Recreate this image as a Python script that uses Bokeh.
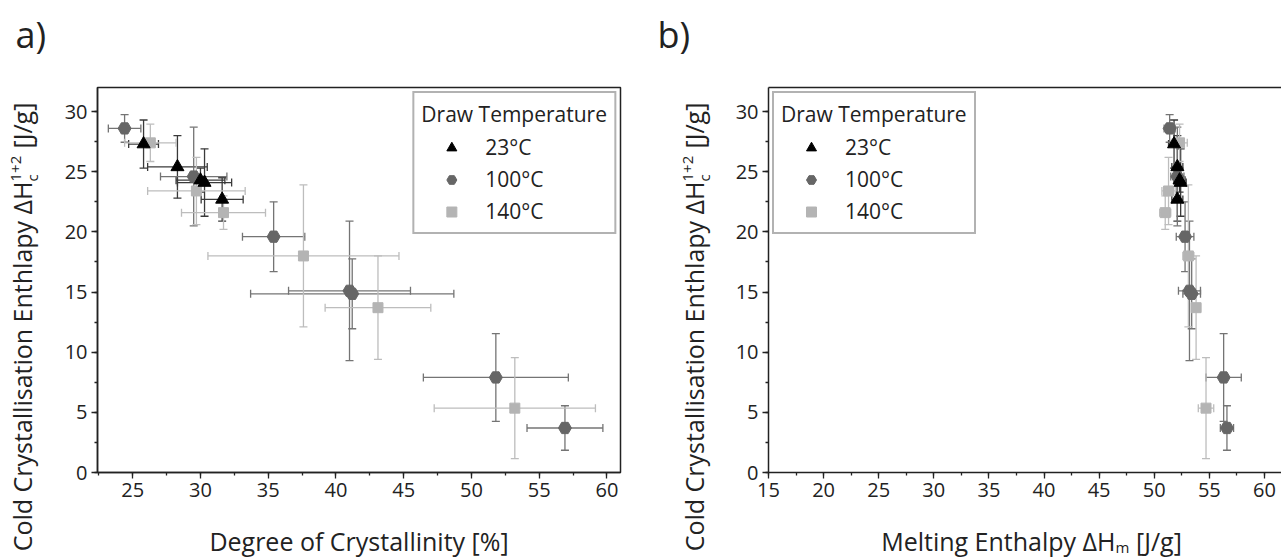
import math
from bokeh.plotting import figure
from bokeh.models import (ColumnDataSource, Whisker, TeeHead, Legend, LegendItem, Label,
                          SingleIntervalTicker, LinearAxis, Range1d)
from bokeh.layouts import row, column
from bokeh.embed import file_html
from bokeh.resources import INLINE

FONT = "Open Sans"

# ---------------- data ----------------
# 23 °C (triangles)
t_cryst = [25.8, 28.3, 30.0, 30.3, 31.6]
t_cryst_err = [1.1, 2.2, 1.8, 2.0, 1.55]
t_hm = [51.8, 52.1, 52.3, 52.4, 52.1]
t_hm_err = [0.5, 0.5, 0.5, 0.5, 0.5]
t_hc = [27.3, 25.4, 24.3, 24.1, 22.7]
t_hc_err = [2.0, 2.6, 1.0, 2.8, 1.8]

# 100 °C (hexagons)
c_cryst = [24.4, 29.5, 35.4, 41.0, 41.2, 51.8, 56.9]
c_cryst_err = [1.2, 2.45, 2.3, 4.5, 7.5, 5.35, 2.8]
c_hm = [51.4, 52.1, 52.8, 53.2, 53.4, 56.3, 56.6]
c_hm_err = [0.5, 0.6, 0.8, 1.0, 0.8, 1.6, 0.6]
c_hc = [28.6, 24.6, 19.6, 15.1, 14.85, 7.9, 3.7]
c_hc_err = [1.15, 4.1, 2.9, 5.8, 2.9, 3.65, 1.85]

# 140 °C (squares)
s_cryst = [26.3, 29.7, 31.7, 37.6, 43.1, 53.2]
s_cryst_err = [1.9, 3.6, 3.1, 7.05, 3.9, 5.95]
s_hm = [52.3, 51.3, 51.0, 53.1, 53.8, 54.7]
s_hm_err = [0.7, 0.6, 0.5, 0.5, 0.4, 0.7]
s_hc = [27.4, 23.4, 21.6, 18.0, 13.7, 5.35]
s_hc_err = [1.55, 2.8, 1.4, 5.9, 4.3, 4.2]

labels = ["23°C", "100°C", "140°C"]
legend_title = "Draw Temperature"

STYLES = [
    dict(marker="triangle", color="#000000", ecolor="#3a3a3a", size=13),
    dict(marker="hex", color="#666666", ecolor="#747474", size=13),
    dict(marker="square", color="#b4b4b4", ecolor="#bdbdbd", size=10),
]

H = 558
MAIN_H = 510


def add_series(p, x, xerr, y, yerr, st):
    src = ColumnDataSource(dict(
        x=x, y=y,
        xlo=[a - b for a, b in zip(x, xerr)], xhi=[a + b for a, b in zip(x, xerr)],
        ylo=[a - b for a, b in zip(y, yerr)], yhi=[a + b for a, b in zip(y, yerr)],
    ))
    for base, lo, hi, dim in [("y", "xlo", "xhi", "width"), ("x", "ylo", "yhi", "height")]:
        w = Whisker(source=src, base=base, lower=lo, upper=hi, dimension=dim,
                    line_color=st["ecolor"], line_width=1.3,
                    upper_head=TeeHead(size=8, line_color=st["ecolor"], line_width=1.3),
                    lower_head=TeeHead(size=8, line_color=st["ecolor"], line_width=1.3))
        p.add_layout(w)
    return src


def style_axis(ax):
    ax.ticker = SingleIntervalTicker(interval=5, num_minor_ticks=2)
    ax.major_tick_out = 6
    ax.major_tick_in = 0
    ax.minor_tick_out = 3
    ax.minor_tick_in = 0
    ax.axis_line_width = 1.5
    ax.axis_line_color = "#222222"
    ax.major_tick_line_color = "#222222"
    ax.minor_tick_line_color = "#222222"
    ax.major_tick_line_width = 1.3
    ax.minor_tick_line_width = 1.3
    ax.major_label_text_font = FONT
    ax.major_label_text_font_size = "20px"
    ax.major_label_text_color = "#222222"
    ax.major_label_standoff = 4


def blank_fig(width, height, left=0, right=0):
    f = figure(width=width, height=height, x_range=Range1d(0, 1), y_range=Range1d(0, 1),
               output_backend="svg", toolbar_location=None,
               x_axis_type=None, y_axis_type=None,
               min_border=0, min_border_left=left, min_border_right=right,
               min_border_top=0, min_border_bottom=0)
    f.outline_line_color = None
    f.grid.visible = False
    f.background_fill_color = "white"
    f.border_fill_color = "white"
    return f


def lab(p, text, x, y, size, align="left", angle=0.0):
    p.add_layout(Label(x=x, y=y, x_units="screen", y_units="screen", text=text,
                       text_font=FONT, text_font_size=size, text_color="#222222",
                       text_align=align, text_baseline="alphabetic", angle=angle))


def ylabel_fig(width, letter, letter_x, base_x):
    f = blank_fig(width, H)
    lab(f, letter, letter_x, H - 34, "36px")
    ang = math.pi / 2
    yP = H - 181
    lab(f, "Cold Crystallisation Enthlapy ΔH", base_x, yP, "25px", "right", ang)
    lab(f, "c", base_x + 10, yP, "15px", "left", ang)
    lab(f, "1+2", base_x - 6, yP, "15px", "left", ang)
    lab(f, "[J/g]", base_x, yP + 33, "25px", "left", ang)
    return f


def make_panel(width, min_left, min_right, xr, xdata, location, outline):
    p = figure(width=width, height=MAIN_H, x_range=xr, y_range=Range1d(0, 32),
               output_backend="svg", toolbar_location=None,
               min_border_left=min_left, min_border_right=min_right,
               min_border_top=87, min_border_bottom=38)
    p.grid.visible = False
    p.background_fill_color = "white"
    p.border_fill_color = "white"
    style_axis(p.below[0])
    style_axis(p.left[0])
    if outline:
        p.outline_line_color = "#222222"
        p.outline_line_width = 1.5
        p.outline_line_alpha = 1.0
    else:
        p.outline_line_color = None
        top = LinearAxis(axis_line_width=1.5, axis_line_color="#222222",
                         major_tick_line_color=None, minor_tick_line_color=None,
                         major_label_text_color=None, major_label_text_font_size="1px",
                         major_label_standoff=0)
        p.add_layout(top, "above")

    srcs = []
    for (x, xe, y, ye), st in zip(xdata, STYLES):
        srcs.append((add_series(p, x, xe, y, ye, st), st))
    rs = {}
    for i in (2, 1, 0):
        src, st = srcs[i]
        rs[i] = p.scatter("x", "y", source=src, marker=st["marker"], size=st["size"],
                          fill_color=st["color"], line_color=st["color"])

    legend = Legend(items=[LegendItem(label=labels[i], renderers=[rs[i]]) for i in range(3)],
                    title=legend_title, location=location,
                    title_text_font=FONT, title_text_font_size="21px",
                    title_text_font_style="normal", title_text_color="#222222",
                    label_text_font=FONT, label_text_font_size="21px",
                    label_text_color="#222222",
                    glyph_width=60, glyph_height=25, label_height=25,
                    spacing=4, padding=7, margin=4, label_standoff=4,
                    title_standoff=5,
                    border_line_color="#666666", border_line_width=2,
                    background_fill_alpha=1.0)
    p.add_layout(legend)
    return p


# ----- panel a -----
yl1 = ylabel_fig(50, "a)", 15, 21)
p1 = make_panel(590, 47, 20, Range1d(22.4, 61.0),
                [(t_cryst, t_cryst_err, t_hc, t_hc_err),
                 (c_cryst, c_cryst_err, c_hc, c_hc_err),
                 (s_cryst, s_cryst_err, s_hc, s_hc_err)],
                "top_right", True)
xt1 = blank_fig(590, H - MAIN_H, left=47, right=20)
lab(xt1, "Degree of Crystallinity [%]", 261.5, 18, "25px", "center")

# ----- panel b -----
yl2 = ylabel_fig(80, "b)", 17, 53)
p2 = make_panel(561, 48, 0, Range1d(15, 61.55),
                [(t_hm, t_hm_err, t_hc, t_hc_err),
                 (c_hm, c_hm_err, c_hc, c_hc_err),
                 (s_hm, s_hm_err, s_hc, s_hc_err)],
                "top_left", False)
xt2 = blank_fig(561, H - MAIN_H, left=48, right=0)
PX = 347
lab(xt2, "Melting Enthalpy ΔH", PX, 18, "25px", "right")
lab(xt2, "m", PX, 12, "15px", "left")
lab(xt2, "[J/g]", PX + 20.5, 18, "25px", "left")

layout = row(yl1, column(p1, xt1), yl2, column(p2, xt2))
open("out.html", "w").write(file_html(layout, INLINE))
